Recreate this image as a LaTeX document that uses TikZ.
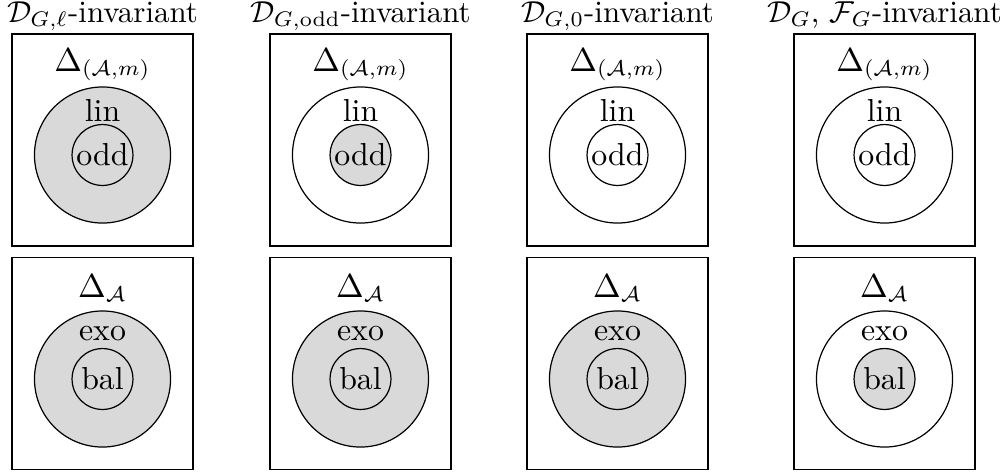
\documentclass[tikz,border=0pt]{standalone}
\definecolor{shade}{gray}{0.85}
\begin{document}
\begin{tikzpicture}[x=0.33pt,y=-0.33pt,
  every node/.style={font=\fontsize{10.5}{12.6}\selectfont},
  panel/.style={draw, rectangle, minimum width=59.73pt, minimum height=69.96pt, inner sep=0pt},
  outer/.style={draw, circle, minimum size=44.9pt, inner sep=0pt},
  inner/.style={draw, circle, minimum size=20.1pt, inner sep=0pt},
  lbl/.style={inner sep=0pt},
  ttl/.style={anchor=base, inner sep=0pt},
  head/.style={anchor=base, inner sep=0pt, font=\fontsize{10.2}{12.2}\selectfont}]
\useasboundingbox (0,0) rectangle (1006,473);
\foreach \i/\cx/\ttext/\fa/\fb/\fc/\fd in {
  1/102.5/{$\mathcal{D}_{G,\ell}$-invariant}/shade/shade/shade/shade,
  2/360.5/{$\mathcal{D}_{G,\mathrm{odd}}$-invariant}/white/shade/shade/shade,
  3/617.5/{$\mathcal{D}_{G,0}$-invariant}/white/white/shade/shade,
  4/884.5/{$\mathcal{D}_G$, $\mathcal{F}_G$-invariant}/white/white/white/shade}
{
  \node[head] (t\i) at (\cx,22) {\ttext};
  % top panel
  \node[panel] (pa\i) at (\cx,140) {};
  \node[outer, fill=\fa] (oa\i) at (\cx,155) {};
  \node[inner, fill=\fb] (na\i) at (\cx,155) {odd};
  \node[lbl] (la\i) at (\cx,110.5) {lin};
  \node[ttl] (da\i) at (\cx,71) {$\Delta_{(\mathcal{A},m)}$};
  % bottom panel
  \node[panel] (pb\i) at (\cx,363.85) {};
  \node[outer, fill=\fc] (ob\i) at (\cx,379) {};
  \node[inner, fill=\fd] (nb\i) at (\cx,379) {bal};
  \node[lbl] (lb\i) at (\cx,334) {exo};
  \node[ttl] (db\i) at (\cx,297) {$\Delta_{\mathcal{A}}$};
}
\end{tikzpicture}
\end{document}
